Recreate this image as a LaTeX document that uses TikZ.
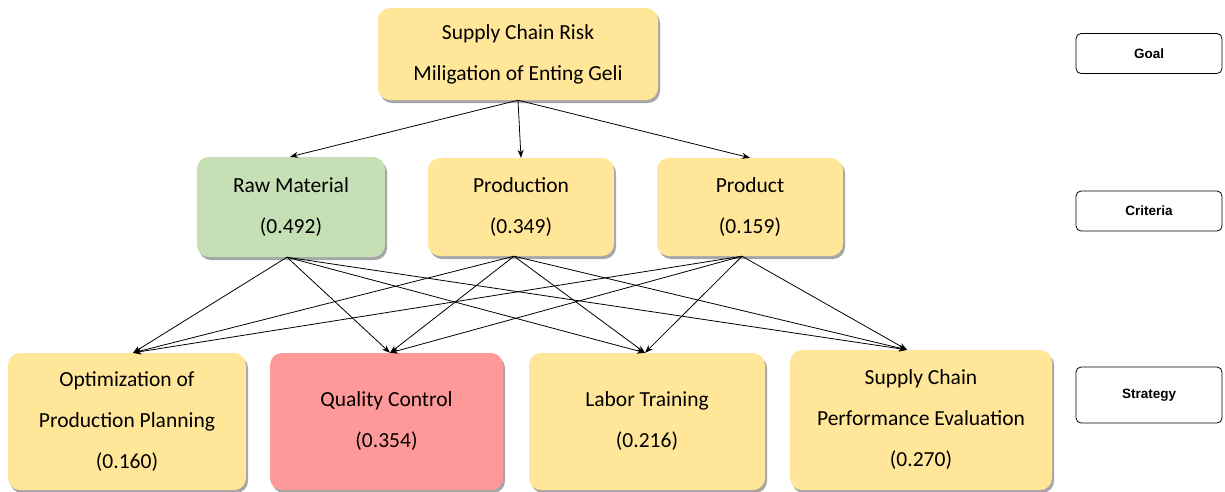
\documentclass[tikz,border=0pt]{standalone}
\usepackage{fontspec}
\setmainfont{Carlito}
\newfontfamily\arialf{Liberation Sans}
\usetikzlibrary{arrows.meta,shadows}
\definecolor{boxyellow}{HTML}{FFE699}
\definecolor{boxgreen}{HTML}{C5E0B4}
\definecolor{boxred}{HTML}{FF9999}
\begin{document}
\begin{tikzpicture}[x=1pt,y=-1pt,
  hbox/.style={rounded corners=12pt, align=center, inner sep=0pt,
    font=\fontsize{21.5}{41}\selectfont,
    drop shadow={shadow xshift=2pt, shadow yshift=-3pt, fill=black!35, opacity=1}},
  ybox/.style={hbox, fill=boxyellow},
  lbl/.style={draw=black, line width=0.8pt, rounded corners=5pt, minimum width=146pt,
    font=\arialf\bfseries\fontsize{13.5}{16}\selectfont, inner sep=0pt},
  arr/.style={-{Stealth[length=8pt,width=6pt]}, line width=0.8pt, black}]
\useasboundingbox (0,0) rectangle (1225,491);
% goal
\node[ybox, minimum width=280pt, minimum height=92pt] (goal) at (518,54)
  {Supply Chain Risk\\Miligation of Enting Geli};
% criteria
\node[hbox, fill=boxgreen, minimum width=188pt, minimum height=100pt] (raw) at (291,207)
  {Raw Material\\(0.492)};
\node[ybox, minimum width=186pt, minimum height=98pt] (prodn) at (521,207)
  {Production\\(0.349)};
\node[ybox, minimum width=186pt, minimum height=98pt] (prodt) at (750,207)
  {Product\\(0.159)};
% strategies
\node[ybox, minimum width=238pt, minimum height=137pt] (opt) at (127,421.5)
  {Optimization of\\Production Planning\\(0.160)};
\node[hbox, fill=boxred, minimum width=233pt, minimum height=137pt] (qc) at (386.5,421.5)
  {Quality Control\\(0.354)};
\node[ybox, minimum width=236pt, minimum height=137pt] (lt) at (647,421.5)
  {Labor Training\\(0.216)};
\node[ybox, minimum width=262pt, minimum height=140pt] (sc) at (921,420)
  {Supply Chain\\Performance Evaluation\\(0.270)};
% level labels
\node[lbl, minimum height=40pt] (lgoal) at (1149,53.5) {Goal};
\node[lbl, minimum height=40pt] (lcrit) at (1149,211) {Criteria};
\node[lbl, minimum height=56pt] (lstrat) at (1149,395) {Strategy};
% anchor points
\coordinate (rawS) at ([xshift=-4pt]raw.south);
\coordinate (prodnS) at ([xshift=-7pt]prodn.south);
\coordinate (prodtS) at ([xshift=-8pt]prodt.south);
\coordinate (optN) at ([xshift=6pt]opt.north);
\coordinate (qcN) at ([xshift=3.5pt]qc.north);
\coordinate (ltN) at ([xshift=-2pt]lt.north);
\coordinate (scN) at ([xshift=-14pt]sc.north);
% goal to criteria
\draw[arr] (goal.south) -- ([xshift=-1pt]raw.north);
\draw[arr] (goal.south) -- (prodn.north);
\draw[arr] (goal.south) -- (prodt.north);
% criteria to strategies
\foreach \s in {rawS,prodnS,prodtS}{
  \foreach \t in {optN,qcN,ltN,scN}{
    \draw[arr] (\s) -- (\t);
  }
}
\end{tikzpicture}
\end{document}
